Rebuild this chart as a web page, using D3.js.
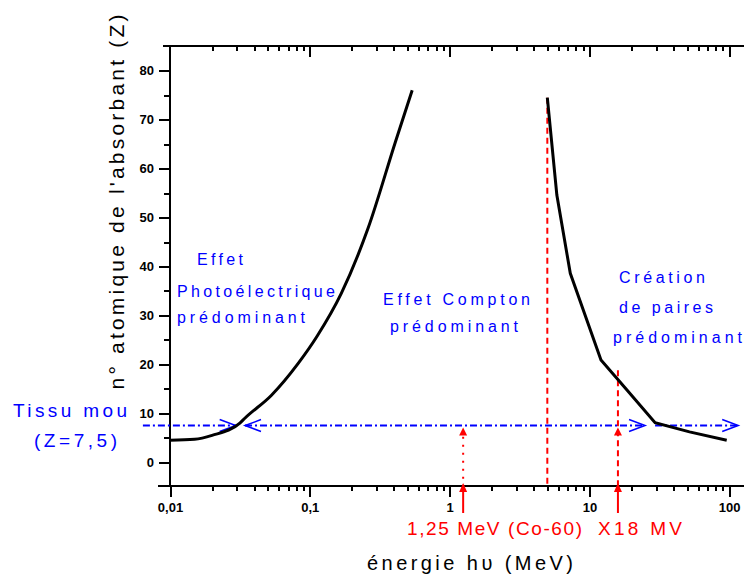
<!DOCTYPE html>
<head>
  <meta charset="utf-8">
  <script src="https://d3js.org/d3.v7.min.js"></script>
  <style>
    body { margin: 0; padding: 0; background: #fff; }
    svg { display: block; }
    .axis text { font-family: "Liberation Sans", Arial, sans-serif; font-size: 13px; font-weight: bold; fill: #000; }
    .axis line { stroke: #000; stroke-width: 2; shape-rendering: crispEdges; }
    .lbl { font-family: "Liberation Sans", Arial, sans-serif; }
  </style>
</head>
<body>
  <script>
    // courbes frontières (énergie en MeV, Z)
    var leftEnergy = [0.01, 0.015, 0.02, 0.0316, 0.0343, 0.0532, 0.0826, 0.113, 0.168, 0.261, 0.41, 0.54],
      leftZ = [4.5, 4.7, 5.5, 8.0, 9.0, 13.7, 20.2, 25.8, 34.5, 47.8, 65.5, 76.0];
    var rightEnergy = [5.0, 5.85, 7.3, 12.1, 18.5, 29.5, 52, 96],
      rightZ = [74.5, 54.6, 38.6, 20.9, 14.8, 8.1, 6.2, 4.5];

    var xTicks = [0.01, 0.1, 1, 10, 100],
      xTickLabels = ['0,01', '0,1', '1', '10', '100'],
      yTicks = [0, 10, 20, 30, 40, 50, 60, 70, 80],
      yMinor = [5, 15, 25, 35, 45, 55, 65, 75];

    // tissu mou
    var tissueZ = 7.5,
      tissueFrom = [0.0064, 0.0344, 29.5],
      tissueTo = [0.0295, 25, 116];

    // repères rouges
    var markerEnergy = [1.25, 5, 16],
      markerTopZ = [5.2, 74.5, 18.8],
      markerLabels = ['1,25 MeV (Co-60)', 'X18 MV'];

    var width = 744, height = 575;

    var svg = d3.select("body").append("svg")
      .attr("width", width)
      .attr("height", height);

    var x = d3.scaleLog().domain([0.01, 100]).range([170, 729.2]);
    var y = d3.scaleLinear().domain([-4.85, 85.05]).range([486, 46]);

    var xMinor = [];
    xTicks.slice(0, 4).forEach(function (d) {
      for (var k = 2; k < 10; k++) xMinor.push(d * k);
    });

    // axe du bas
    var gb = svg.append("g").attr("class", "axis").attr("transform", "translate(0," + y(-4.85) + ")");
    gb.call(d3.axisBottom(x).tickValues(xTicks).tickSize(11).tickPadding(6)
      .tickFormat(function (d, i) { return xTickLabels[i]; }));
    gb.append("g").call(d3.axisBottom(x).tickValues(xMinor).tickSize(5).tickFormat(""));
    gb.selectAll(".domain").remove();
    gb.append("line").attr("x1", 158).attr("x2", width);

    // axe du haut (graduations vers l'intérieur)
    var gt = svg.append("g").attr("class", "axis").attr("transform", "translate(0," + y(85.05) + ")");
    gt.call(d3.axisTop(x).tickValues(xTicks.slice(1)).tickSize(-11).tickFormat(""));
    gt.append("g").call(d3.axisTop(x).tickValues(xMinor).tickSize(-5).tickFormat(""));
    gt.selectAll(".domain").remove();
    gt.append("line").attr("x1", 163).attr("x2", width);

    // axe vertical
    var gl = svg.append("g").attr("class", "axis").attr("transform", "translate(" + x(0.01) + ",0)");
    gl.call(d3.axisLeft(y).tickValues(yTicks).tickSize(11).tickPadding(5));
    gl.append("g").call(d3.axisLeft(y).tickValues(yMinor).tickSize(6).tickFormat(""));
    gl.selectAll(".domain").remove();
    gl.append("line").attr("y1", y(85.05)).attr("y2", y(-4.85));

    // repères rouges
    var red = "#ff0000";
    markerEnergy.forEach(function (e, i) {
      var px = x(e);
      svg.append("line")
        .attr("x1", px).attr("x2", px)
        .attr("y1", y(markerTopZ[i])).attr("y2", y(-4.85))
        .attr("stroke", red).attr("stroke-width", 2)
        .attr("stroke-dasharray", i == 0 ? "2,6" : "6,4");
      if (i == 1) return;
      var tip = y(tissueZ) + 2;
      svg.append("path")
        .attr("d", "M" + px + "," + tip + "L" + (px + 4) + "," + (tip + 8) + "L" + (px - 4) + "," + (tip + 8) + "Z")
        .attr("fill", red);
      var ax = y(-4.85);
      svg.append("line")
        .attr("x1", px).attr("x2", px)
        .attr("y1", ax).attr("y2", ax + 27)
        .attr("stroke", red).attr("stroke-width", 2);
      svg.append("path")
        .attr("d", "M" + px + "," + (ax - 3) + "L" + (px + 4) + "," + (ax + 6) + "L" + (px - 4) + "," + (ax + 6) + "Z")
        .attr("fill", red);
    });

    // ligne du tissu mou
    var blue = "#0000ff";
    var ty = y(tissueZ);
    function chevron(px, dir) {
      svg.append("path")
        .attr("d", "M" + (px - dir * 16) + "," + (ty - 6) + "L" + px + "," + ty + "L" + (px - dir * 16) + "," + (ty + 6))
        .attr("fill", "none").attr("stroke", blue).attr("stroke-width", 1.5);
    }
    tissueFrom.forEach(function (e, i) {
      svg.append("line")
        .attr("x1", x(e)).attr("x2", x(tissueTo[i]))
        .attr("y1", ty).attr("y2", ty)
        .attr("stroke", blue).attr("stroke-width", 2)
        .attr("stroke-dasharray", "7,3,2,3");
      chevron(x(tissueTo[i]), 1);
      if (i == 1) chevron(x(e), -1);
    });

    // courbes
    var line = d3.line()
      .x(function (d) { return x(d[0]); })
      .y(function (d) { return y(d[1]); });
    svg.append("path")
      .datum(d3.zip(leftEnergy, leftZ))
      .attr("d", line.curve(d3.curveMonotoneX))
      .attr("fill", "none").attr("stroke", "#000").attr("stroke-width", 3);
    svg.append("path")
      .datum(d3.zip(rightEnergy, rightZ))
      .attr("d", line.curve(d3.curveLinear))
      .attr("fill", "none").attr("stroke", "#000").attr("stroke-width", 3);

    // textes
    function label(t, px, py, len, size, color) {
      return svg.append("text").attr("class", "lbl")
        .attr("x", px).attr("y", py)
        .attr("font-size", size + "px")
        .attr("fill", color)
        .attr("textLength", len).attr("lengthAdjust", "spacing")
        .text(t);
    }
    label("Effet", 197, 265, 46, 16, blue);
    label("Photoélectrique", 177, 297, 158, 16, blue);
    label("prédominant", 177, 323, 128, 16, blue);
    label("Effet Compton", 383, 305, 147, 16, blue);
    label("prédominant", 390, 332, 128, 16, blue);
    label("Création", 619, 283, 86, 16, blue);
    label("de paires", 619, 313, 94, 16, blue);
    label("prédominant", 613, 343, 129, 16, blue);
    label("Tissu mou", 13, 417, 114, 19, blue);
    label("(Z=7,5)", 34, 447, 83, 19, blue);
    label(markerLabels[0], 407, 535, 175, 19, red);
    label(markerLabels[1], 598, 535, 84, 19, red);
    label("énergie hυ (MeV)", 367, 570, 206, 20, "#000");

    svg.append("text").attr("class", "lbl")
      .attr("transform", "translate(124,202) rotate(-90)")
      .attr("text-anchor", "middle")
      .attr("font-size", "21px")
      .attr("textLength", 375).attr("lengthAdjust", "spacing")
      .text("n° atomique de l'absorbant (Z)");
  </script>
</body>
